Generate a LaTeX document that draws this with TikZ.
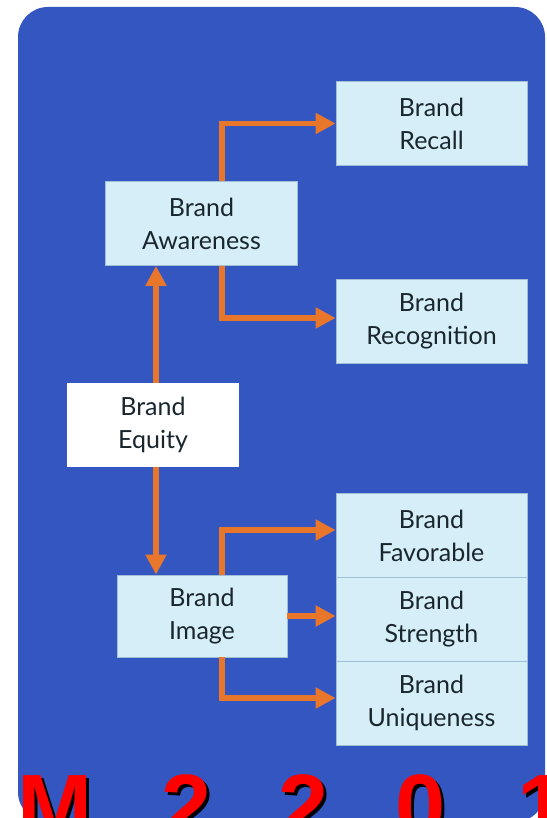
\documentclass[tikz,border=0pt]{standalone}
\usepackage{fontspec}
\setmainfont{Lato}
\newfontfamily\bigfont{Liberation Sans}
\usetikzlibrary{arrows.meta}
\definecolor{bgblue}{RGB}{51,86,192}
\definecolor{boxcyan}{RGB}{214,238,247}
\definecolor{boxline}{RGB}{160,190,215}
\definecolor{arrorange}{RGB}{232,118,43}
\definecolor{textdark}{RGB}{25,38,46}
\tikzset{
 box/.style={fill=boxcyan, draw=boxline, line width=0.8pt, text=textdark, align=center,
  inner sep=0pt, font=\fontsize{25}{33}\selectfont},
 rbox/.style={box, minimum width=191pt, minimum height=84pt},
 arr/.style={draw=arrorange, line width=5.5pt, -{Triangle[length=20pt,width=20pt]}},
 bigchar/.style={anchor=base, inner sep=0pt, font=\bigfont\bfseries\fontsize{90}{90}\selectfont}
}

\begin{document}
\begin{tikzpicture}[x=1pt,y=-1pt]
 \useasboundingbox (0,0) rectangle (546,818);
 \clip (0,0) rectangle (546,818);
 \fill[white] (0,0) rectangle (546,818);
 \fill[bgblue, rounded corners=30pt] (18,7) rectangle (545,822);

 \node[rbox] (recall) at (431.5,123.5) {Brand\\Recall};
 \node[rbox] (recog) at (431.5,321) {Brand\\Recognition};
 \node[rbox] (fav) at (431.5,535.5) {Brand\\Favorable};
 \node[rbox] (strength) at (431.5,619) {Brand\\Strength};
 \node[rbox] (uniq) at (431.5,703) {Brand\\Uniqueness};
 \node[box, minimum width=192pt, minimum height=84pt] (aware) at (201.5,223.5) {Brand\\Awareness};
 \node[box, fill=white, draw=none, minimum width=172pt, minimum height=84pt] (equity) at (153,425) {Brand\\Equity};
 \node[box, minimum width=170pt, minimum height=82pt] (img) at (202,616) {Brand\\Image};

 \draw[arr] ([xshift=20.5pt]aware.north) |- (recall.west);
 \draw[arr] ([xshift=20.5pt]aware.south) |- ([yshift=3pt]recog.west);
 \draw[arr] ([xshift=3pt]equity.north) -- ([xshift=3pt]equity.north |- aware.south);
 \draw[arr] ([xshift=3pt]equity.south) -- ([xshift=3pt]equity.south |- img.north);
 \draw[arr] ([xshift=20pt]img.north) |- ([yshift=5.5pt]fav.west);
 \draw[arr] (img.east) -- (img.east -| strength.west);
 \draw[arr] ([xshift=20pt]img.south) |- ([yshift=5pt]uniq.west);

 \foreach \ch/\cx [count=\i] in {M/55,2/187,2/304,0/421,1/543} {
  \node[bigchar, text=black] (shadow\i) at (\cx+3,840.5) {\ch};
  \node[bigchar, text=red] (digit\i) at (\cx,837.5) {\ch};
 }
\end{tikzpicture}
\end{document}
